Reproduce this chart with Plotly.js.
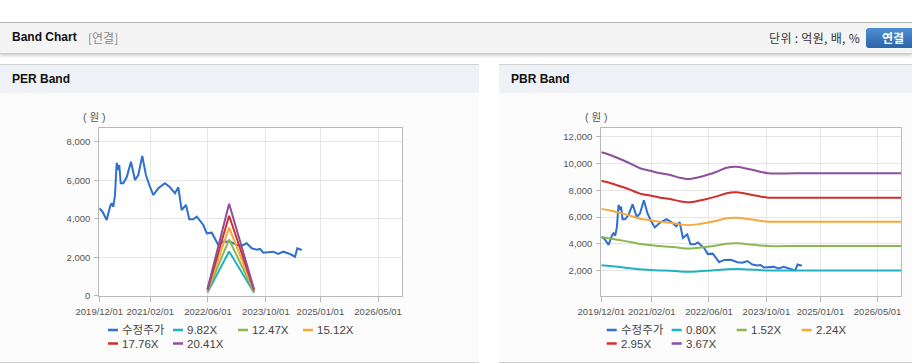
<!DOCTYPE html>
<html>
<head>
<meta charset="utf-8">
<script src="https://cdn.plot.ly/plotly-3.0.1.min.js"></script>
<style>
  html, body { margin:0; padding:0; background:#fff; }
  body { width:912px; height:364px; overflow:hidden; position:relative;
         font-family:"Liberation Sans", Arial, "Noto Sans CJK KR", sans-serif; }
  .topbar { position:absolute; left:0; top:22px; width:912px; height:30px; background:#f4f4f4;
            border-top:1px solid #b3b3b3; border-bottom:1px solid #c8c8c8;
            box-shadow:0 2px 3px rgba(0,0,0,0.18); }
  .t1 { position:absolute; left:12px; top:7px; font-size:12px; font-weight:bold; color:#111; }
  .t2 { position:absolute; left:88px; top:7px; font-size:12px; color:#888;
        font-family:"Noto Sans CJK KR", sans-serif; line-height:15px; }
  .unit { position:absolute; right:52px; top:7px; font-size:12px; color:#333; letter-spacing:0.3px;
          font-family:"Noto Sans CJK KR", sans-serif; line-height:15px; }
  .btn { position:absolute; left:866px; top:5px; width:54px; height:20px; border-radius:3px;
         background:linear-gradient(#4d8fd3, #2c63a9); color:#fff; font-size:12px; font-weight:bold;
         text-align:center; line-height:20px; font-family:"Noto Sans CJK KR", sans-serif; }
  .panel { position:absolute; top:64px; height:297px; background:#fcfcfc;
           border-top:1px solid #d2d2d2; border-bottom:1px solid #d0d0d0; }
  .ph { height:28px; background:#eef2f7; position:relative; }
  .ph span { position:absolute; left:12px; top:7px; font-size:12px; font-weight:bold; color:#111; }
  #chart { position:absolute; left:0; top:0; width:912px; height:364px; }
</style>
</head>
<body>
<div class="topbar">
  <div class="t1">Band Chart</div>
  <div class="t2">[연결]</div>
  <div class="unit">단위 : 억원, 배, %</div>
  <div class="btn">연결</div>
</div>
<div class="panel" style="left:0;width:479px;"><div class="ph"><span>PER Band</span></div></div>
<div class="panel" style="left:499px;width:413px;"><div class="ph"><span>PBR Band</span></div></div>
<div id="chart"></div>
<script>
// ---- data ----
const priceDates = ['2019-12-01','2019-12-28','2020-02-01','2020-02-29','2020-03-14','2020-03-28','2020-04-11','2020-04-25','2020-05-09','2020-05-17','2020-05-29','2020-06-20','2020-07-18','2020-08-23','2020-09-26','2020-10-24','2020-11-26','2020-12-27','2021-01-24','2021-02-27','2021-04-10','2021-06-05','2021-07-17','2021-08-28','2021-09-25','2021-10-23','2021-11-29','2021-12-26','2022-01-29','2022-02-27','2022-04-23','2022-05-22','2022-07-03','2022-07-30','2022-08-27','2022-09-10','2022-10-08','2022-12-03','2023-01-29','2023-03-12','2023-04-23','2023-06-04','2023-07-16','2023-08-13','2023-09-09','2023-12-02','2024-01-13','2024-02-24','2024-04-21','2024-06-02','2024-06-21','2024-07-28'];
const priceValues = [4540,4364,3932,4623,4800,4623,5231,6909,6530,6790,5840,5840,6150,6961,6010,6270,7257,6270,5750,5231,5579,5840,5631,5319,5631,4452,4712,3968,3968,4104,3673,3241,3273,2981,2634,2700,2805,2820,2634,2600,2722,2462,2390,2430,2234,2286,2166,2286,2166,2026,2462,2374];

const perDates = ['2022-05-28','2022-11-26','2023-06-24'];
const per982 = [167, 2298, 157];
const per1247 = [212, 2918, 200];
const per1512 = [257, 3538, 242];
const per1776 = [302, 4156, 284];
const per2041 = [347, 4776, 327];

const pbrDates = ['2019-12-01','2020-02-13','2020-05-08','2020-07-31','2020-10-24','2021-01-17','2021-04-13','2021-07-07','2021-09-28','2021-12-08','2022-02-17','2022-05-13','2022-08-06','2022-10-29','2023-01-22','2023-05-15','2023-08-08','2023-10-17','2024-06-01','2025-06-01','2026-11-18'];
const pbr080 = [2410,2350,2270,2183,2102,2062,2021,1993,1949,1928,1949,1993,2046,2111,2128,2086,2046,2021,2021,2021,2021];
const pbr152 = [4489,4405,4280,4148,3993,3919,3840,3786,3703,3663,3703,3786,3888,4011,4043,3963,3888,3840,3840,3840,3840];
const pbr224 = [6615,6492,6308,6113,5884,5775,5658,5580,5457,5398,5457,5580,5730,5911,5958,5840,5730,5658,5658,5658,5658];
const pbr295 = [8711,8549,8307,8051,7750,7605,7452,7348,7186,7110,7186,7348,7546,7785,7847,7691,7546,7452,7452,7452,7452];
const pbr367 = [10836,10634,10336,10015,9642,9463,9269,9142,8940,8843,8940,9142,9388,9686,9761,9567,9388,9269,9269,9269,9269];

const perNames = ['수정주가','9.82X','12.47X','15.12X','17.76X','20.41X'];
const pbrNames = ['수정주가','0.80X','1.52X','2.24X','2.95X','3.67X'];
const colors = ['#2f6fd0','#1fb2c4','#8cb650','#f5a93a','#d0302c','#8e4f9b'];

const xTickVals = ['2019-12-01','2021-02-01','2022-06-01','2023-10-01','2025-01-01','2026-05-01'];
const xTickText = ['2019/12/01','2021/02/01','2022/06/01','2023/10/01','2025/01/01','2026/05/01'];
const perYTicks = [0,2000,4000,6000,8000];
const perYText = ['0','2,000','4,000','6,000','8,000'];
const pbrYTicks = [2000,4000,6000,8000,10000,12000];
const pbrYText = ['2,000','4,000','6,000','8,000','10,000','12,000'];

// ---- build ----
const W = 912, H = 364;
const px = v => v / W, py = v => 1 - v / H;
const FONT = '"Liberation Sans", Arial, "Noto Sans CJK KR", sans-serif';

const perSeries = [per982, per1247, per1512, per1776, per2041];
const pbrSeries = [pbr080, pbr152, pbr224, pbr295, pbr367];
const traces = [];
traces.push({x: priceDates, y: priceValues, type:'scatter', mode:'lines', xaxis:'x', yaxis:'y',
  line:{color:colors[0], width:2}, name:perNames[0], hoverinfo:'skip'});
perSeries.forEach((s,i) => traces.push({x: perDates, y: s, type:'scatter', mode:'lines', xaxis:'x', yaxis:'y',
  line:{color:colors[i+1], width:2}, name:perNames[i+1], hoverinfo:'skip'}));
traces.push({x: priceDates, y: priceValues, type:'scatter', mode:'lines', xaxis:'x2', yaxis:'y2',
  line:{color:colors[0], width:2}, name:pbrNames[0], hoverinfo:'skip'});
pbrSeries.forEach((s,i) => traces.push({x: pbrDates, y: s, type:'scatter', mode:'lines', xaxis:'x2', yaxis:'y2',
  line:{color:colors[i+1], width:2, shape:'spline', smoothing:0.8}, name:pbrNames[i+1], hoverinfo:'skip'}));

const xRange = ['2019-12-01','2026-11-18'];
function xax(domain, anchor) {
  return {type:'date', range:xRange, domain:domain, anchor:anchor,
    tickmode:'array', tickvals:xTickVals, ticktext:xTickText,
    showgrid:true, gridcolor:'#e6e6e6', gridwidth:1,
    showline:true, linecolor:'#b9b9b9', linewidth:1, mirror:true,
    ticks:'outside', ticklen:5, tickcolor:'#b9b9b9', ticklabelstandoff:2,
    tickfont:{family:FONT, size:9.5, color:'#555'}, zeroline:false, fixedrange:true};
}
function yax(domain, anchor, range, vals, text) {
  return {range:range, domain:domain, anchor:anchor,
    tickmode:'array', tickvals:vals, ticktext:text,
    showgrid:true, gridcolor:'#e6e6e6', gridwidth:1,
    showline:true, linecolor:'#b9b9b9', linewidth:1, mirror:true,
    ticks:'outside', ticklen:4, tickcolor:'#b9b9b9', ticklabelstandoff:2,
    tickfont:{family:FONT, size:9.5, color:'#555'}, zeroline:false, fixedrange:true};
}

const shapes = [], annotations = [];
function legend(names, cols, rowsY) {
  names.forEach((n,i) => {
    const r = Math.floor(i/4), c = i % 4;
    const x0 = cols[c], y = rowsY[r];
    shapes.push({type:'line', xref:'paper', yref:'paper', x0:px(x0), x1:px(x0+10), y0:py(y), y1:py(y),
      line:{color:colors[i], width:2.5}});
    annotations.push({xref:'paper', yref:'paper', x:px(x0+12), y:py(y), xanchor:'left', yanchor:'middle',
      text:n, showarrow:false, font:{family:FONT, size:11.5, color:'#444'}});
  });
}
legend(perNames, [108,173,238,303], [330,343.5]);
legend(pbrNames, [606.7,671.7,736.7,801.7], [330,343.5]);
annotations.push({xref:'paper', yref:'paper', x:px(94), y:py(117.5), xanchor:'center', yanchor:'middle',
  text:'( 원 )', showarrow:false, font:{family:FONT, size:10.5, color:'#555'}});
annotations.push({xref:'paper', yref:'paper', x:px(596), y:py(117), xanchor:'center', yanchor:'middle',
  text:'( 원 )', showarrow:false, font:{family:FONT, size:10.5, color:'#555'}});

const layout = {
  width:W, height:H, margin:{l:0,r:0,t:0,b:0},
  paper_bgcolor:'rgba(0,0,0,0)', plot_bgcolor:'#ffffff',
  showlegend:false,
  xaxis: xax([px(99.3), px(402)], 'y'),
  yaxis: yax([py(295.7), py(128)], 'x', [0, 8712], perYTicks, perYText),
  xaxis2: xax([px(601.3), px(901.3)], 'y2'),
  yaxis2: yax([py(295.5), py(128.3)], 'x2', [150, 12627], pbrYTicks, pbrYText),
  shapes: shapes, annotations: annotations
};
Plotly.newPlot('chart', traces, layout, {staticPlot:true, displayModeBar:false});
</script>
</body>
</html>
